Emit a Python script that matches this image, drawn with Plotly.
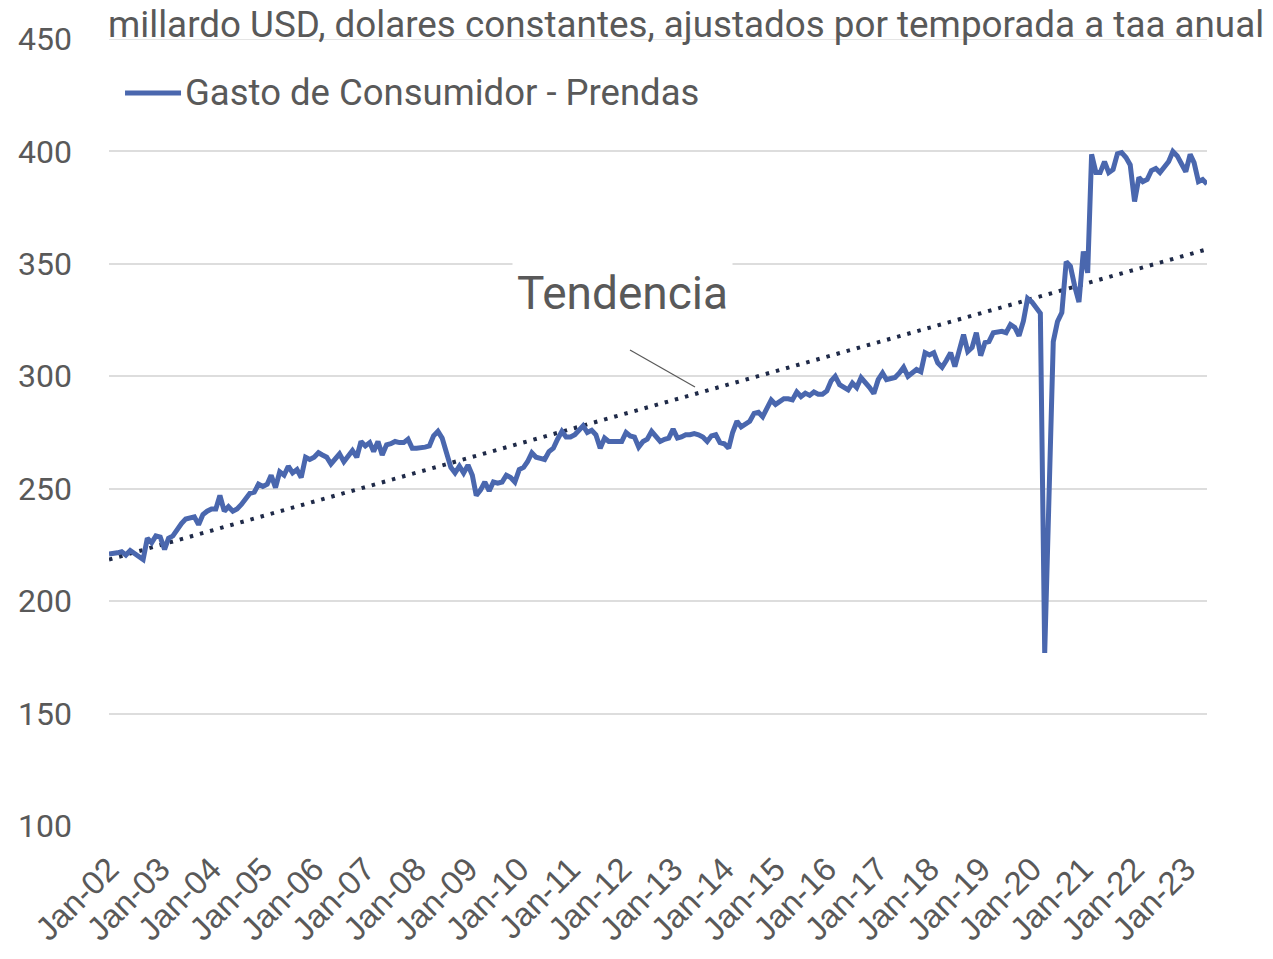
import numpy as np
import pandas as pd
import plotly.graph_objects as go

# monthly, Jan 2002 .. Jun 2023, billions of constant USD (SAAR)
start_month = "2002-01-01"
v2002 = [221, 221, 221.5, 222, 220.5, 222.5, 221, 220, 218.5, 228, 226, 229]
v2003 = [228.5, 223, 228, 229, 232, 234.5, 236.5, 237, 237.5, 234, 238.5, 240]
v2004 = [241, 241, 247, 240, 242, 240, 241, 243, 245.5, 248, 248.5, 252]
v2005 = [251, 252, 256, 250.5, 257.5, 256, 260, 257, 258.5, 255, 264, 263]
v2006 = [264, 266, 265, 264, 261, 263.5, 265.5, 262, 265, 267, 264, 271]
v2007 = [269, 270.5, 266.5, 271, 265, 269.5, 270, 271, 270.5, 270.5, 272, 268]
v2008 = [268, 268, 268.5, 269, 273.5, 275.5, 272.5, 266, 259.5, 257, 260, 257]
v2009 = [260.5, 256, 247, 249.5, 253, 249, 253, 252.5, 253, 256, 255, 253]
v2010 = [258.5, 259.5, 262, 266, 264, 263.5, 263, 266.5, 268, 272, 275.5, 273]
v2011 = [273, 274, 276, 278, 275, 276, 274, 268, 272.5, 271, 271, 271]
v2012 = [271, 275, 273.5, 273, 268.5, 271, 272, 275.5, 273, 271, 272, 272.5]
v2013 = [276.5, 272.5, 273, 274, 274, 274.5, 274, 273, 271, 273.5, 274, 270.5]
v2014 = [270, 268, 275, 280, 277.5, 279, 280, 283.5, 284, 282, 286, 289.5]
v2015 = [287.5, 289, 290, 290, 289.5, 293, 291, 292.5, 291.5, 293, 292, 292]
v2016 = [293.5, 298, 300, 296.3, 295, 294, 297, 295, 299.4, 297.5, 295, 292.3]
v2017 = [298.5, 301.5, 298.5, 299, 299.5, 301.5, 304, 300, 301.5, 303, 302, 310.5]
v2018 = [309.5, 310.5, 306, 304, 307, 310.5, 304.3, 312, 318.5, 311, 312.8, 319.4]
v2019 = [309.2, 315, 315.4, 319.4, 319.7, 320, 319.4, 323, 321.7, 318, 324.5, 334.6]
v2020 = [333, 330.6, 328, 177, 246, 315.4, 324.3, 328.3, 351, 349, 340, 333]
v2021 = [355.5, 346, 398.7, 390.6, 390.6, 395.5, 390.6, 392, 399, 399.5, 397.3, 394]
v2022 = [377.7, 388.4, 386.5, 387.5, 391.5, 392.4, 390.6, 393, 395.5, 400, 398, 394.5]
v2023 = [391, 398.7, 395, 386.6, 387.5, 385.5]

gasto = (v2002 + v2003 + v2004 + v2005 + v2006 + v2007 + v2008 + v2009 + v2010
         + v2011 + v2012 + v2013 + v2014 + v2015 + v2016 + v2017 + v2018 + v2019
         + v2020 + v2021 + v2022 + v2023)
fechas = pd.date_range(start_month, periods=len(gasto), freq="MS")

serie_nombre = "Gasto de Consumidor - Prendas"
titulo = "millardo USD, dolares constantes, ajustados por temporada a taa anual"

# linear trendline (like Excel's)
idx = np.arange(len(gasto))
pend, orig = np.polyfit(idx, gasto, 1)
tendencia = orig + pend * idx

gris = "#595959"
azul = "#4A67AE"
fuente = "Roboto"

fig = go.Figure()
fig.add_trace(go.Scatter(
    x=fechas, y=tendencia, mode="lines", showlegend=False,
    line=dict(color="#1F2A48", width=4, dash="3.5px,7px"),
))
fig.add_trace(go.Scatter(
    x=fechas, y=gasto, mode="lines", name=serie_nombre, showlegend=False,
    line=dict(color=azul, width=5),
))

fig.update_layout(
    width=1273, height=959,
    margin=dict(l=109, r=66, t=39, b=133),
    paper_bgcolor="white", plot_bgcolor="white",
    font=dict(family=fuente, color=gris),
    xaxis=dict(
        type="date", range=[fechas[0], fechas[-1]],
        tick0=start_month, dtick="M12", tickformat="%b-%y",
        tickangle=-45, showgrid=False, zeroline=False, showline=False,
        tickfont=dict(size=33, family="Liberation Sans", color=gris),
        ticks="", ticklabelstandoff=16,
    ),
    yaxis=dict(
        range=[100, 450], dtick=50, showgrid=True, gridcolor="#DDDDDD",
        gridwidth=1.5, zeroline=False, showline=False, ticks="",
        tickfont=dict(size=32, family=fuente, color=gris),
        ticklabelstandoff=36,
    ),
)

# top gridline (450) that plotly skips at the range edge
fig.add_shape(type="line", xref="paper", yref="y", x0=0, x1=1, y0=450, y1=450,
              line=dict(color="#DDDDDD", width=1.5), layer="below")

fig.add_annotation(
    xref="paper", yref="paper", x=0.0, y=1.0, yshift=15, xshift=-2,
    xanchor="left", yanchor="middle", showarrow=False, text=titulo,
    borderpad=0, font=dict(size=36.8, family=fuente, color=gris),
)

# legend drawn by hand so the line sample has Excel's length
fig.add_shape(type="line", xref="paper", yref="paper",
              x0=0.0146, x1=0.0656, y0=0.9314, y1=0.9314,
              line=dict(color=azul, width=5))
fig.add_annotation(
    xref="paper", yref="paper", x=0.067, y=0.9314,
    xanchor="left", yanchor="middle", showarrow=False, text=serie_nombre,
    font=dict(size=36.5, family=fuente, color=gris),
)

fig.add_annotation(
    xref="paper", yref="paper", x=0.468, y=0.677,
    xanchor="center", yanchor="middle", showarrow=False,
    text="Tendencia", bgcolor="white", borderpad=4,
    font=dict(size=46, family=fuente, color=gris),
)
fig.add_shape(
    type="line", xref="paper", yref="paper",
    x0=0.4745, y0=0.6048, x1=0.5337, y1=0.5578,
    line=dict(color=gris, width=1.2),
)

# drop the browser's default 8px body margin so the figure fills the window
fig.write_html("out.html", config={"displayModeBar": False},
               post_script="document.body.style.margin = '0';")
